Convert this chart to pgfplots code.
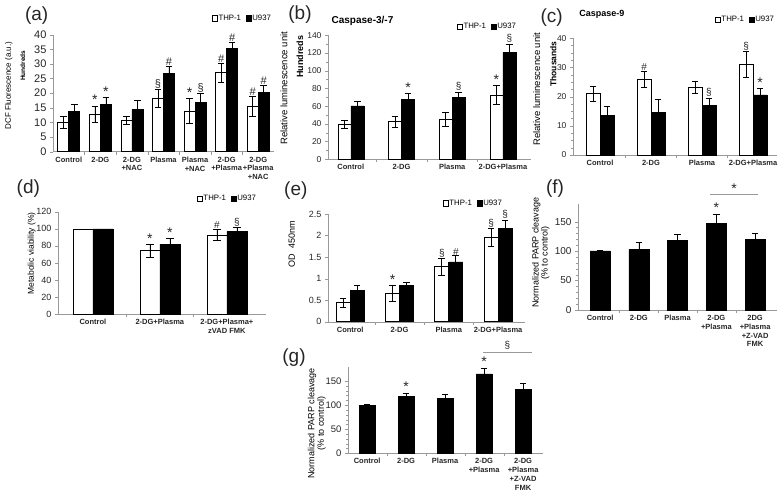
\documentclass[border=0pt]{standalone}
\usepackage{fontspec}
\setmainfont{Liberation Sans}
\usepackage{pgfplots}
\pgfplotsset{compat=1.18}
\definecolor{axgray}{gray}{0.6}
\newcommand\st{{\fontsize{14}{14}\selectfont *}}
\pgfplotsset{
  panel/.style={scale only axis, anchor=south west, axis lines*=left,
    axis line style={draw=axgray,-}, tick align=outside,
    enlargelimits=false, clip=false, ymin=0,
    major tick length=3pt, minor tick length=1.8pt,
    xtick style={draw=none}, ytick style={draw=axgray},
    /pgf/number format/assume math mode=true,
    xticklabel style={font=\bfseries\fontsize{7.5}{8.8}\selectfont, align=center, text=black!85, inner sep=2pt},
    yticklabel style={text=black!85},
    extra x tick labels={}, extra x tick style={xtick style={draw=axgray}},
    legend style={draw=none, fill=none, legend columns=2, inner sep=0pt,
      nodes={inner sep=0.8pt}, /tikz/every even column/.append style={column sep=4pt}},
  },
  thp/.style={ybar, bar shift=0pt, fill=white, draw=black, line width=0.6pt,
    legend image code/.code={\draw[fill=white, draw=black, line width=0.5pt] (0pt,-2.6pt) rectangle (5.2pt,2.6pt);}},
  u9/.style={ybar, bar shift=0pt, fill=black, draw=black, line width=0.6pt,
    legend image code/.code={\draw[fill=black, draw=black, line width=0.5pt] (0pt,-2.6pt) rectangle (5.2pt,2.6pt);}},
  eb/.style={/pgfplots/error bars/y dir=both, /pgfplots/error bars/y explicit,
    /pgfplots/error bars/error bar style={black, line width=0.6pt},
    /pgfplots/error bars/error mark options={rotate=90, black, line width=0.6pt, mark size=#1}},
  ann/.style={ybar, bar shift=0pt, draw=none, fill=none, forget plot, nodes near coords, point meta=explicit symbolic,
    nodes near coords style={font=\fontsize{#1}{#1}\selectfont, anchor=south, inner sep=1pt, text=black!85}},
}
\begin{document}
\begin{tikzpicture}
\useasboundingbox (0,0) rectangle (781pt,496pt);

% (a)
\begin{axis}[panel, at={(53pt,344.3pt)}, width=221pt, height=117pt,
  xmin=-0.5, xmax=6.5, ymax=40, ytick={0,5,...,40}, bar width=11pt,
  xtick={0,...,6},
  xticklabels={Control,2-DG,{2-DG\\+NAC},Plasma,{Plasma\\+NAC},{2-DG\\+Plasma},{2-DG\\+Plasma\\+NAC}},
  extra x ticks={0.5,1.5,...,5.5},
  yticklabel style={font=\fontsize{11}{12}\selectfont},
  ylabel={DCF Fluorescence (a.u.)},
  ylabel style={at={(axis description cs:-0.20,0.564)}, anchor=center, font=\fontsize{8}{9}\selectfont},
  legend style={at={(axis description cs:0.991,1.14)}, anchor=east, font=\fontsize{7.8}{9}\selectfont},
]
\addplot[thp, eb=3.3pt] coordinates {(-0.174,10) +- (0,2.1) (0.826,12.8) +- (0,2.8) (1.826,10.8) +- (0,1.4) (2.826,18.2) +- (0,3.1) (3.826,13.9) +- (0,4.3) (4.826,27.0) +- (0,3.2) (5.826,15.4) +- (0,3.4)};
\addplot[u9, eb=3.3pt] coordinates {(0.174,13.7) +- (0,2.5) (1.174,16.2) +- (0,2.4) (2.174,14.5) +- (0,3.2) (3.174,26.8) +- (0,2.3) (4.174,16.8) +- (0,3.1) (5.174,35.3) +- (0,2.1) (6.174,20.2) +- (0,2.5)};
\legend{THP-1,U937}
\addplot[ann=11] coordinates {(0.826,15.6)[\st] (2.826,21.3)[§] (3.826,18.2)[\st] (4.826,30.2)[\#] (5.826,18.8)[\#]
  (1.174,18.6)[\st] (3.174,29.1)[\#] (4.174,19.9)[§] (5.174,37.4)[\#] (6.174,22.7)[\#]};
\node[rotate=90, font=\bfseries\fontsize{6.5}{7}\selectfont] at (axis description cs:-0.137,0.735) {Hundreds};
\end{axis}

% (b)
\begin{axis}[panel, at={(328pt,336.7pt)}, width=202.8pt, height=124pt,
  xmin=-0.45, xmax=3.55, ymax=140, ytick={0,20,...,140}, minor y tick num=1, bar width=13pt,
  xtick={0,...,3}, xticklabels={Control,2-DG,Plasma,2-DG+Plasma},
  extra x ticks={0.5,1.5,2.5},
  yticklabel style={font=\fontsize{8.5}{9}\selectfont},
  ylabel={Relative luminescence unit},
  ylabel style={at={(axis description cs:-0.217,0.573)}, anchor=center, font=\fontsize{9.5}{10}\selectfont},
  title={Caspase-3/-7}, title style={at={(axis description cs:0.17,1.069)}, anchor=center, font=\bfseries\fontsize{10}{11}\selectfont},
  legend style={at={(axis description cs:0.932,1.069)}, anchor=east, font=\fontsize{7.8}{9}\selectfont},
]
\addplot[thp, eb=3.3pt] coordinates {(-0.128,39.5) +- (0,4.9) (0.872,42.5) +- (0,6.4) (1.872,45.2) +- (0,7.9) (2.872,72.6) +- (0,10.5)};
\addplot[u9, eb=3.3pt] coordinates {(0.128,60.2) +- (0,4.9) (1.128,67.7) +- (0,6.8) (2.128,70) +- (0,6) (3.128,120.8) +- (0,9.4)};
\legend{THP-1,U937}
\addplot[ann=10] coordinates {(2.872,83.2)[\st] (1.128,74.5)[\st] (2.128,76)[§] (3.128,130.2)[§]};
\node[rotate=90, font=\bfseries\fontsize{9}{10}\selectfont] at (axis description cs:-0.138,0.827) {Hundreds};
\end{axis}

% (c)
\begin{axis}[panel, at={(573pt,341pt)}, width=204pt, height=116.7pt,
  xmin=-0.53, xmax=3.47, ymax=40, ytick={0,10,...,40}, minor y tick num=3, bar width=14pt,
  xtick={0,...,3}, xticklabels={Control,2-DG,Plasma,2-DG+Plasma},
  extra x ticks={0.5,1.5,2.5},
  yticklabel style={font=\fontsize{8.5}{9}\selectfont},
  ylabel={Relative luminescence unit},
  ylabel style={at={(axis description cs:-0.178,0.564)}, anchor=center, font=\fontsize{9.5}{10}\selectfont},
  title={Caspase-9}, title style={at={(axis description cs:0.141,1.154)}, anchor=center, font=\bfseries\fontsize{9}{10}\selectfont},
  legend style={at={(axis description cs:0.99,1.157)}, anchor=east, font=\fontsize{7.8}{9}\selectfont},
]
\addplot[thp, eb=3.3pt] coordinates {(-0.137,21.1) +- (0,2.6) (0.863,25.9) +- (0,2.7) (1.863,23.2) +- (0,2.0) (2.863,31.1) +- (0,4.3)};
\addplot[u9, eb=3.3pt] coordinates {(0.137,13.5) +- (0,3.3) (1.137,14.6) +- (0,4.5) (2.137,16.9) +- (0,2.7) (3.137,20.6) +- (0,2.1)};
\legend{THP-1,U937}
\addplot[ann=10] coordinates {(0.863,28.7)[\#] (2.863,35.4)[§] (2.137,19.7)[§] (3.137,22.7)[\st]};
\node[rotate=90, font=\bfseries\fontsize{8.5}{9}\selectfont] at (axis description cs:-0.0966,0.78) {Thousands};
\end{axis}

% (d)
\begin{axis}[panel, at={(58pt,181.7pt)}, width=207.7pt, height=102.6pt,
  xmin=-0.52, xmax=2.58, ymax=120, ytick={0,20,...,120}, bar width=20pt,
  xtick={0,...,2}, xticklabels={Control,2-DG+Plasma,{2-DG+Plasma+\\zVAD FMK}},
  extra x ticks={0.5,1.5},
  yticklabel style={font=\fontsize{9}{10}\selectfont},
  ylabel={Metabolic viability (\%)},
  ylabel style={at={(axis description cs:-0.127,0.595)}, anchor=center, font=\fontsize{8.5}{9}\selectfont},
  legend style={at={(axis description cs:0.958,1.13)}, anchor=east, font=\fontsize{7.8}{9}\selectfont},
]
\addplot[thp, eb=4pt] coordinates {(-0.149,100) +- (0,0) (0.851,74.4) +- (0,7.4) (1.851,92.7) +- (0,6.6)};
\addplot[u9, eb=4pt] coordinates {(0.149,100) +- (0,0) (1.149,82.2) +- (0,6.6) (2.149,96.6) +- (0,5)};
\legend{THP-1,U937}
\addplot[ann=10] coordinates {(0.851,81.8)[\st] (1.851,99.3)[\#] (1.149,88.8)[\st] (2.149,101.7)[§]};
\end{axis}

% (e)
\begin{axis}[panel, at={(328pt,174.3pt)}, width=197.2pt, height=107.7pt,
  xmin=-0.45, xmax=3.55, ymax=2.5, ytick={0,0.5,...,2.5}, bar width=14pt,
  xtick={0,...,3}, xticklabels={Control,2-DG,Plasma,2-DG+Plasma},
  extra x ticks={0.5,1.5,2.5},
  yticklabel style={font=\fontsize{9}{10}\selectfont},
  ylabel={OD\ \ 450nm},
  ylabel style={at={(axis description cs:-0.184,0.72)}, anchor=center, font=\fontsize{9}{10}\selectfont},
  legend style={at={(axis description cs:0.887,1.099)}, anchor=east, font=\fontsize{7.8}{9}\selectfont},
]
\addplot[thp, eb=3.3pt] coordinates {(-0.142,0.44) +- (0,0.1) (0.858,0.66) +- (0,0.18) (1.858,1.28) +- (0,0.2) (2.858,1.95) +- (0,0.21)};
\addplot[u9, eb=3.3pt] coordinates {(0.142,0.72) +- (0,0.13) (1.142,0.85) +- (0,0.06) (2.142,1.39) +- (0,0.14) (3.142,2.17) +- (0,0.19)};
\legend{THP-1,U937}
\addplot[ann=10] coordinates {(0.858,0.84)[\st] (1.858,1.47)[§] (2.858,2.16)[§] (2.142,1.52)[\#] (3.142,2.36)[§]};
\end{axis}

% (f)
\begin{axis}[panel, at={(578pt,186pt)}, width=199.2pt, height=106pt,
  xmin=-0.57, xmax=4.57, ymax=180, ytick={0,50,100,150}, minor y tick num=4, bar width=20pt,
  xtick={0,...,4}, xticklabels={Control,2-DG,Plasma,{2-DG\\+Plasma},{2DG\\+Plasma\\+Z-VAD\\FMK}},
  extra x ticks={0.5,1.5,2.5,3.5},
  yticklabel style={font=\fontsize{10}{11}\selectfont},
  ylabel={Normalized PARP cleavage\\(\% to control)},
  ylabel style={at={(axis description cs:-0.187,0.54)}, anchor=center, align=center, font=\fontsize{9}{9}\selectfont},
]
\addplot[u9, eb=3.3pt, forget plot] coordinates {(0,100.2) +- (0,1) (1,103) +- (0,12) (2,118.8) +- (0,9.6) (3,147.1) +- (0,15.9) (4,120.5) +- (0,9.6)};
\addplot[ann=10] coordinates {(3,163)[\st]};
\addplot[sharp plot, draw=axgray, line width=1.1pt, forget plot] coordinates {(2.84,196.4) (4.08,196.4)};
\addplot[ann=10] coordinates {(3.46,196)[\st]};
\end{axis}

% (g)
\begin{axis}[panel, at={(348pt,42.7pt)}, width=194.6pt, height=86.6pt,
  xmin=-0.49, xmax=4.5, ymax=180, ytick={0,50,100,150}, minor y tick num=4, bar width=16pt,
  xtick={0,...,4}, xticklabels={Control,2-DG,Plasma,{2-DG\\+Plasma},{2-DG\\+Plasma\\+Z-VAD\\FMK}},
  extra x ticks={0.5,1.5,2.5,3.5},
  yticklabel style={font=\fontsize{9.5}{10}\selectfont},
  ylabel={Normalized PARP cleavage\\(\% to control)},
  ylabel style={at={(axis description cs:-0.161,0.346)}, anchor=center, align=center, font=\fontsize{9}{9.5}\selectfont},
]
\addplot[u9, eb=3.3pt, forget plot] coordinates {(0,100) +- (0,1) (1,118.8) +- (0,6.3) (2,113.9) +- (0,9.7) (3,165) +- (0,12) (4,133.3) +- (0,12.5)};
\addplot[ann=10] coordinates {(1,125)[\st] (3,177)[\st]};
\addplot[sharp plot, draw=axgray, line width=1.1pt, forget plot] coordinates {(2.97,209.6) (4.23,209.6)};
\addplot[ann=10] coordinates {(3.6,213)[§]};
\end{axis}

\begin{scope}[every node/.style={font=\fontsize{19}{19}\selectfont, text=black!85}]
\node at (36.7pt,480.2pt) {(a)};
\node at (300pt,481.8pt) {(b)};
\node at (551.7pt,478.5pt) {(c)};
\node at (28.3pt,307pt) {(d)};
\node at (295.8pt,305pt) {(e)};
\node at (555pt,307.7pt) {(f)};
\node at (294pt,138.5pt) {(g)};
\end{scope}
\end{tikzpicture}
\end{document}
